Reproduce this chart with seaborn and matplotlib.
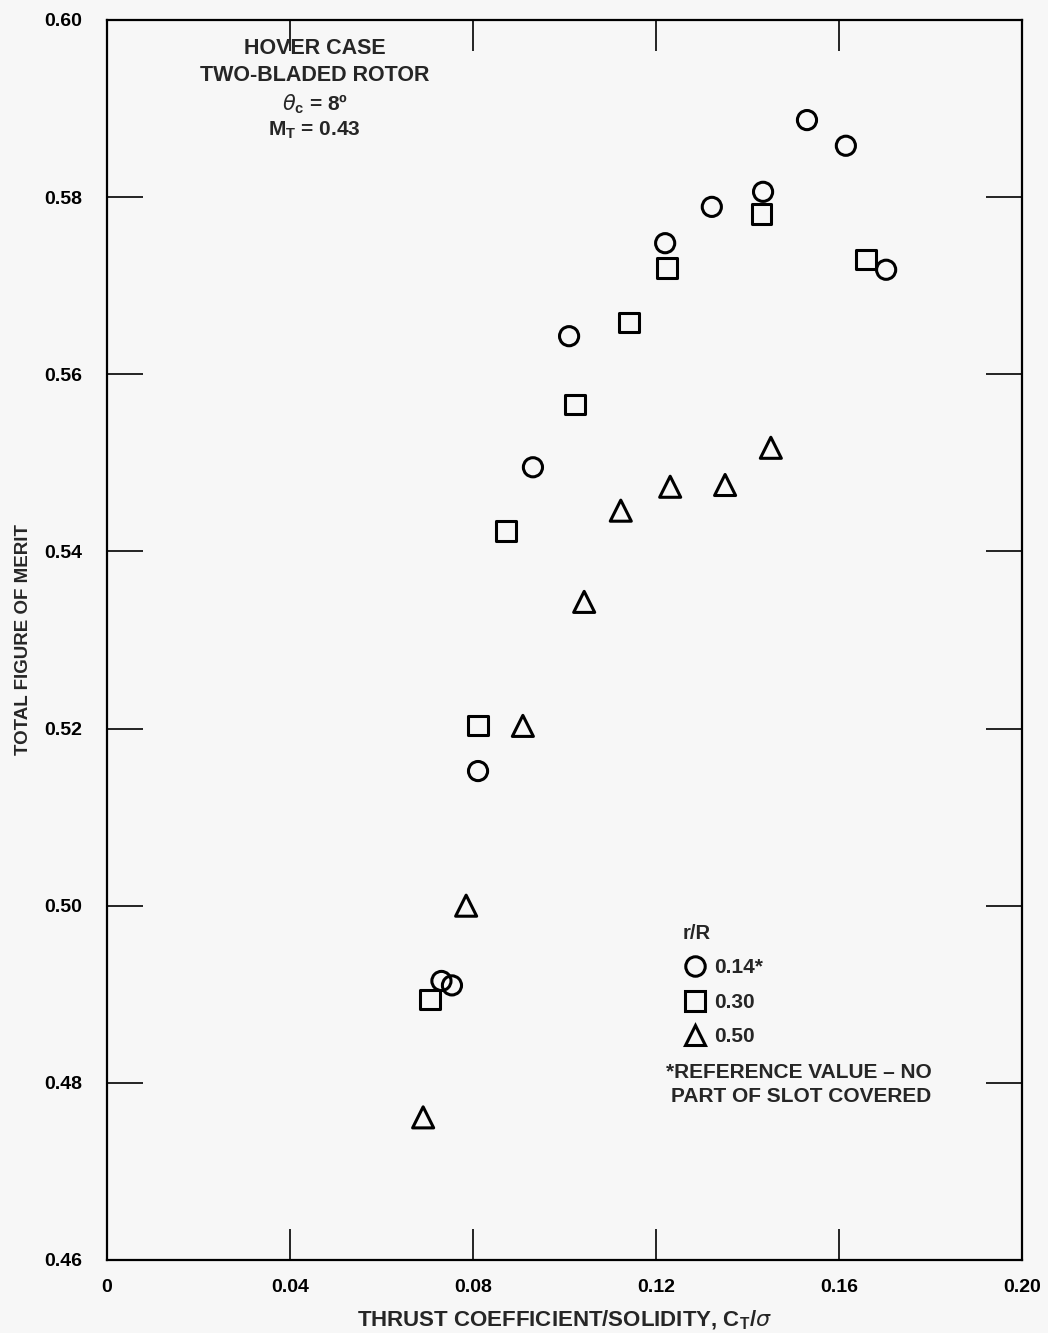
import matplotlib
matplotlib.use("Agg")
import matplotlib.pyplot as plt
from matplotlib.lines import Line2D
import seaborn as sns
import pandas as pd

# ---- data ----
ct_014 = [0.0731, 0.0754, 0.0811, 0.0931, 0.1010, 0.1220, 0.1322, 0.1434, 0.1530, 0.1615, 0.1703]
fm_014 = [0.4915, 0.4910, 0.5152, 0.5495, 0.5643, 0.5748, 0.5789, 0.5806, 0.5887, 0.5858, 0.5718]

ct_030 = [0.0706, 0.0811, 0.0872, 0.1023, 0.1141, 0.1224, 0.1430, 0.1659]
fm_030 = [0.4894, 0.5203, 0.5423, 0.5566, 0.5658, 0.5720, 0.5781, 0.5730]

ct_050 = [0.0691, 0.0785, 0.0909, 0.1043, 0.1123, 0.1231, 0.1351, 0.1451]
fm_050 = [0.4761, 0.5000, 0.5203, 0.5343, 0.5446, 0.5473, 0.5475, 0.5517]

series_labels = ["0.14*", "0.30", "0.50"]
series_markers = ["o", "s", "^"]

x_ticks = [0, 0.04, 0.08, 0.12, 0.16, 0.20]
x_ticklabels = ["0", "0.04", "0.08", "0.12", "0.16", "0.20"]
y_ticks = [0.46, 0.48, 0.50, 0.52, 0.54, 0.56, 0.58, 0.60]
y_ticklabels = ["0.46", "0.48", "0.50", "0.52", "0.54", "0.56", "0.58", "0.60"]

df = pd.concat([
    pd.DataFrame({"ct": ct_014, "fm": fm_014, "r": series_labels[0]}),
    pd.DataFrame({"ct": ct_030, "fm": fm_030, "r": series_labels[1]}),
    pd.DataFrame({"ct": ct_050, "fm": fm_050, "r": series_labels[2]}),
])

sns.set_theme(style="ticks")
plt.rcParams["font.family"] = ["Liberation Sans", "DejaVu Sans"]

fig = plt.figure(figsize=(10.48, 13.33), dpi=100)
fig.patch.set_facecolor("#f7f7f7")
ax = fig.add_axes([0.1021, 0.0548, 0.8731, 0.9302])
ax.set_facecolor("#f7f7f7")

for lab, mk in zip(series_labels, series_markers):
    sub = df[df["r"] == lab]
    sns.scatterplot(data=sub, x="ct", y="fm", marker=mk, s=190 if mk != "^" else 230,
                    facecolors="none", edgecolor="black", linewidth=2.2,
                    legend=False, ax=ax)

ax.set_xlim(0, 0.20)
ax.set_ylim(0.46, 0.60)
ax.set_xticks(x_ticks)
ax.set_xticklabels(x_ticklabels, fontsize=14, fontweight="bold")
ax.set_yticks(y_ticks)
ax.set_yticklabels(y_ticklabels, fontsize=14, fontweight="bold")
ax.tick_params(axis="y", which="both", direction="in", length=26, width=1.2,
               left=True, right=True, pad=18, colors="black")
ax.tick_params(axis="x", which="both", direction="in", length=22, width=1.2,
               bottom=True, top=True, pad=14, colors="black")
for sp in ax.spines.values():
    sp.set_color("black")
    sp.set_linewidth(1.6)

ax.set_xlabel(r"THRUST COEFFICIENT/SOLIDITY, C$_\mathregular{T}$/$\sigma$",
              fontsize=16, fontweight="bold", labelpad=9)
ax.set_ylabel("TOTAL FIGURE OF MERIT", fontsize=13.5,
              fontweight="bold", labelpad=9)

# annotation block
tx = 0.0454
ax.text(tx, 0.5968, "HOVER CASE", ha="center", va="center", fontsize=15.5, fontweight="bold")
ax.text(tx, 0.5937, "TWO-BLADED ROTOR", ha="center", va="center", fontsize=15.5, fontweight="bold")
ax.text(tx, 0.5905, r"$\theta_\mathregular{c}$ = 8º", ha="center", va="center", fontsize=15, fontweight="bold")
ax.text(tx, 0.5876, r"M$_\mathregular{T}$ = 0.43", ha="center", va="center", fontsize=15, fontweight="bold")

# legend
handles = [Line2D([], [], marker=m, linestyle="none", markerfacecolor="none",
                  markeredgecolor="black", markeredgewidth=2.2,
                  markersize=14 if m != "^" else 15)
           for m in series_markers]
leg = ax.legend(handles, series_labels, title="r/R", loc="upper left",
                bbox_to_anchor=(0.620, 0.278), frameon=False,
                prop={"size": 15, "weight": "bold"}, handletextpad=0.3,
                labelspacing=0.75, handlelength=1.2, borderaxespad=0)
leg.get_title().set_fontsize(14.5)
leg.get_title().set_fontweight("bold")
leg._legend_box.align = "left"

ax.text(0.1512, 0.4812, "*REFERENCE VALUE – NO", ha="center", va="center",
        fontsize=15, fontweight="bold")
ax.text(0.1518, 0.4785, "PART OF SLOT COVERED", ha="center", va="center",
        fontsize=15, fontweight="bold")

fig.savefig("out.png", dpi=100, facecolor=fig.get_facecolor())
